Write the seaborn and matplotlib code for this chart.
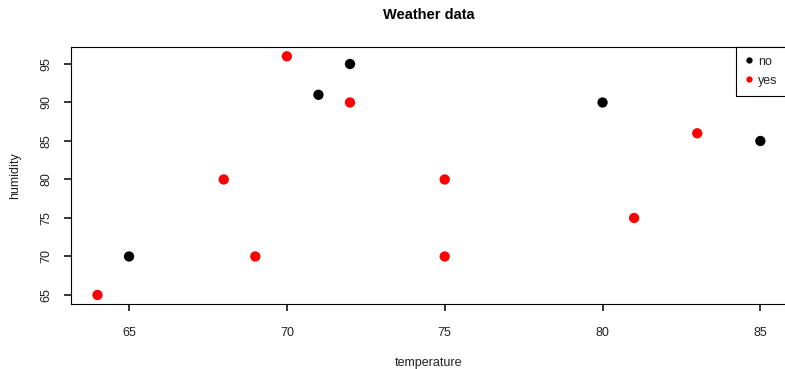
import numpy as np
import pandas as pd
import seaborn as sns
import matplotlib.pyplot as plt

# weather data (temperature, humidity, play)
temperature = [85, 80, 83, 70, 68, 65, 64, 72, 69, 75, 75, 72, 81, 71]
humidity = [85, 90, 86, 96, 80, 70, 65, 95, 70, 80, 70, 90, 75, 91]
play = ["no", "no", "yes", "yes", "yes", "no", "yes", "no", "yes", "yes", "yes", "yes", "yes", "no"]

xticks = [65, 70, 75, 80, 85]
yticks = [65, 70, 75, 80, 85, 90, 95]

df = pd.DataFrame({"temperature": temperature, "humidity": humidity, "play": play})

sns.set_style("ticks")
plt.rcParams["font.family"] = ["Liberation Sans", "DejaVu Sans"]

fig = plt.figure(figsize=(7.85, 3.69), dpi=100)
ax = fig.add_axes([0.0904, 0.1748, 0.912, 0.6985])

sns.scatterplot(data=df, x="temperature", y="humidity", hue="play",
                hue_order=["no", "yes"], palette={"no": "black", "yes": "red"},
                s=55, linewidth=0, ax=ax, legend=False)

ax.set_xlim(63.16, 85.84)
ax.set_ylim(63.76, 97.24)
ax.set_xticks(xticks)
ax.set_yticks(yticks)
ax.set_yticklabels([str(v) for v in yticks], rotation=90, va="center")
ax.tick_params(axis="both", direction="out", length=5.2, width=1.1, color="black",
               labelsize=9, labelcolor="#222222", zorder=5)
ax.tick_params(axis="x", pad=11)
ax.tick_params(axis="y", pad=8)

for sp in ax.spines.values():
    sp.set_visible(True)
    sp.set_color("black")
    sp.set_linewidth(0.8)

ax.set_xlabel("temperature", fontsize=9, labelpad=13, color="#222222")
ax.set_ylabel("humidity", fontsize=9, labelpad=14, color="#222222")
ax.set_title("Weather data", fontsize=10.5, fontweight="bold", pad=20, color="black")

handles = [plt.Line2D([], [], marker="o", ls="", color=c, markersize=3.5) for c in ["black", "red"]]
leg = ax.legend(handles, ["no", "yes"], loc="upper right", bbox_to_anchor=(1, 1),
                borderaxespad=0, fancybox=False, framealpha=1, edgecolor="black",
                fontsize=9, handlelength=0.6, handletextpad=0.45, labelspacing=0.55,
                borderpad=0.72)
leg.get_frame().set_linewidth(0.8)

fig.savefig("out.png", dpi=100)
